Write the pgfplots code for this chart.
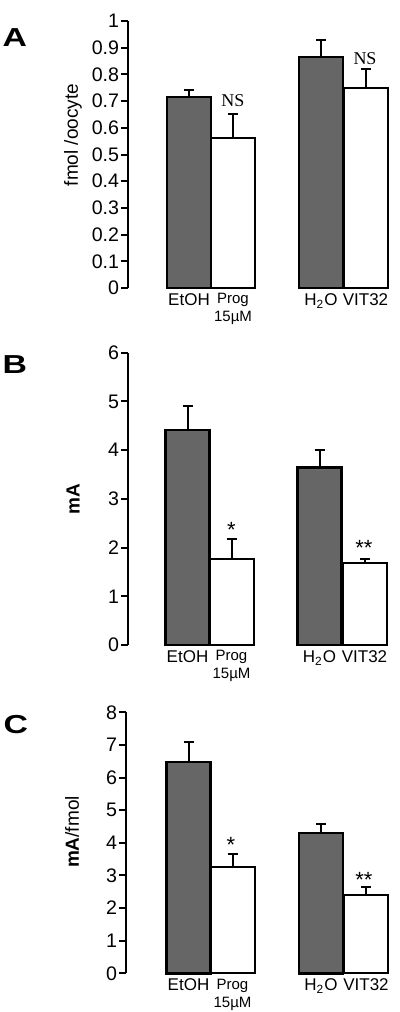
\documentclass[border=0pt]{standalone}
\usepackage{fontspec}
\setmainfont{Liberation Sans}
\newfontfamily\serif{Liberation Serif}
\usepackage{pgfplots}
\pgfplotsset{compat=1.18}
\definecolor{hatch}{gray}{0.40}

\pgfplotsset{
  panel/.style={
    scale only axis,
    axis y line=left, axis x line=none,
    y axis line style={line width=1pt, -},
    ytick style={line width=1pt, black},
    tick align=outside,
    major tick length=3.5pt,
    ymin=0, xmin=128, xmax=395,
    /pgf/number format/assume math mode=true,
    yticklabel style={font=\fontsize{9.8}{11}\selectfont, inner sep=0.8pt},
    clip=false,
    ybar, bar shift=0pt, bar width=44,
    error bars/y dir=plus, error bars/y explicit,
    error bars/error bar style={line width=1pt, black},
    error bars/error mark options={line width=1pt, black, mark size=2.5pt, rotate=90},
  },
  darkbar/.style={fill=hatch, draw=black, line width=1.2pt},
  whitebar/.style={fill=white, draw=black, line width=1pt},
}
\tikzset{
  ylab/.style={font=\fontsize{9.5}{11}\selectfont, rotate=90, anchor=center, inner sep=0pt},
  letter/.style={font=\bfseries\fontsize{13}{15}\selectfont, anchor=north west, inner sep=0pt, xscale=1.3, transform shape},
  cat/.style={font=\fontsize{8.5}{9}\selectfont, anchor=north, inner sep=0pt, yshift=-2.5pt},
  catsm/.style={font=\fontsize{7.5}{9}\selectfont, anchor=north, inner sep=0pt, yshift=-2.5pt, align=center},
  ns/.style={font=\serif\fontsize{9}{10}\selectfont, anchor=south, inner sep=0pt},
  star/.style={font=\fontsize{11}{12}\selectfont, anchor=base, inner sep=0pt, yshift=-1.5pt},
}

\begin{document}
\begin{tikzpicture}
\path[use as bounding box] (0,0) rectangle (200pt,-506pt);

% --- Panel A ---
\node[letter] at (1pt,-14pt) {A};
\node[ylab] at (36.5pt,-67.5pt) {fmol /oocyte};
\begin{axis}[panel,
  at={(64pt,-144pt)},
  width=133.5pt, height=133.5pt,
  ymax=1, ytick={0,0.1,0.2,0.3,0.4,0.5,0.6,0.7,0.8,0.9,1},
]
\addplot[darkbar] coordinates {(189,0.715) +- (0,0.025) (321,0.865) +- (0,0.064)};
\addplot[whitebar] coordinates {(233,0.562) +- (0,0.090) (365.5,0.749) +- (0,0.071)};
\node[ns] at (axis cs:233,0.678) {NS};
\node[ns] at (axis cs:365,0.835) {NS};
\node[cat] at (axis cs:189,0) {EtOH};
\node[catsm] at (axis cs:233,0) {Prog\\15µM};
\node[cat] at (axis cs:321,0) {H\textsubscript{2}O};
\node[cat] at (axis cs:365.5,0) {VIT32};
\end{axis}

% --- Panel B ---
\node[letter] at (1pt,-177.5pt) {B};
\node[ylab] at (36.5pt,-249.4pt) {\bfseries mA};
\begin{axis}[panel,
  at={(64pt,-322.5pt)},
  width=133.5pt, height=146.15pt,
  ymax=6, ytick={0,1,2,3,4,5,6},
]
\addplot[darkbar] coordinates {(187.5,4.41) +- (0,0.50) (319.5,3.64) +- (0,0.36)};
\addplot[whitebar] coordinates {(231.5,1.77) +- (0,0.41) (364.5,1.69) +- (0,0.07)};
\node[star] at (axis cs:231.5,2.26) {*};
\node[star] at (axis cs:364,1.89) {**};
\node[cat] at (axis cs:187.5,0) {EtOH};
\node[catsm] at (axis cs:231.5,0) {Prog\\15µM};
\node[cat] at (axis cs:319.5,0) {H\textsubscript{2}O};
\node[cat] at (axis cs:364.5,0) {VIT32};
\end{axis}

% --- Panel C ---
\node[letter] at (1.5pt,-357.5pt) {C};
\node[ylab] at (36pt,-416pt) {{\bfseries mA}/fmol};
\begin{axis}[panel,
  at={(63pt,-486.65pt)},
  width=134.5pt, height=130.5pt, xmin=126,
  ymax=8, ytick={0,1,2,3,4,5,6,7,8},
]
\addplot[darkbar] coordinates {(188.5,6.47) +- (0,0.63) (321,4.31) +- (0,0.27)};
\addplot[whitebar] coordinates {(232.5,3.25) +- (0,0.40) (366,2.39) +- (0,0.27)};
\node[star] at (axis cs:231,3.78) {*};
\node[star] at (axis cs:364,2.71) {**};
\node[cat] at (axis cs:188.5,0) {EtOH};
\node[catsm] at (axis cs:232.5,0) {Prog\\15µM};
\node[cat] at (axis cs:321,0) {H\textsubscript{2}O};
\node[cat] at (axis cs:366,0) {VIT32};
\end{axis}
\end{tikzpicture}
\end{document}
